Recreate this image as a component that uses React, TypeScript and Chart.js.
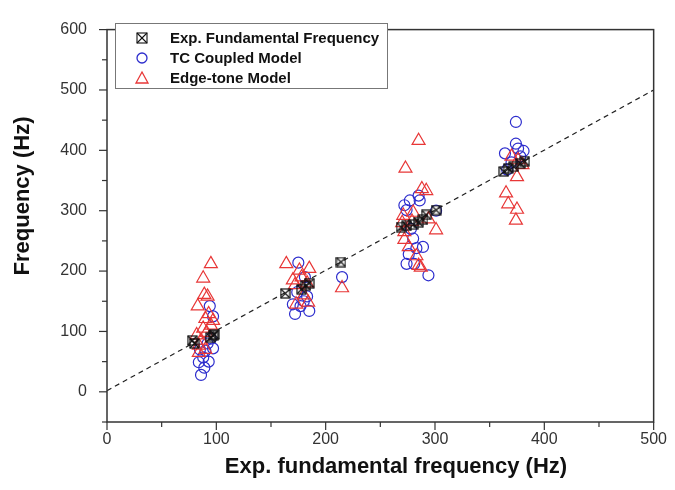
import React, { useEffect, useRef } from 'react';
import { Chart, registerables } from 'chart.js';

Chart.register(...registerables);

// ---- data ----
const expX = [78, 80, 95, 97, 98, 163, 178, 182, 185, 214, 269, 274, 280, 285, 289, 292, 301, 363, 367, 372, 378, 382];
const expY = [85, 80, 90, 93, 95, 163, 170, 176, 180, 215, 273, 275, 277, 281, 285, 293, 301, 365, 370, 373, 378, 382];

const tcX = [94, 97, 95, 92, 90, 88, 84, 93, 86, 89, 97, 85,
  175, 183, 172, 185, 177, 180, 174, 181, 170,
  215,
  277, 272, 286, 274, 301, 280, 283, 276, 274, 281, 294, 289, 278, 285,
  374, 374, 364, 381, 376, 370, 366, 378];
const tcY = [142, 125, 88, 80, 68, 57, 49, 50, 28, 40, 72, 70,
  214, 158, 129, 134, 142, 150, 165, 190, 145,
  190,
  317, 309, 317, 301, 300, 254, 238, 228, 212, 212, 193, 240, 270, 325,
  447, 411, 395, 399, 403, 380, 368, 390];

const etX = [95, 88, 89, 92, 83, 93, 90, 95, 82, 84, 88, 91, 86, 97, 84, 90,
  164, 176, 185, 172, 183, 173, 184, 178, 180, 170,
  215,
  285, 273, 288, 292, 271, 280, 294, 301, 272, 272, 285, 287, 279, 276, 283, 270,
  376, 380, 375, 365, 367, 375, 374, 370];
const etY = [212, 188, 161, 158, 142, 129, 121, 110, 94, 77, 105, 98, 85, 118, 65, 70,
  212, 201, 204, 177, 180, 145, 148, 190, 160, 185,
  172,
  416, 370, 336, 333, 292, 297, 286, 268, 265, 252, 209, 206, 282, 240, 225, 280,
  384, 376, 356, 329, 311, 302, 284, 390];

const refLineX = [0, 500];
const refLineY = [2, 500];

const xMajorTicks = [0, 100, 200, 300, 400, 500];
const xMinorTicks = [50, 150, 250, 350, 450];
const yMajorTicks = [0, 100, 200, 300, 400, 500, 600];
const yMinorTicks = [-50, 50, 150, 250, 350, 450, 550];

const legendLabels = ['Exp. Fundamental Frequency', 'TC Coupled Model', 'Edge-tone Model'];
const xTitle = 'Exp. fundamental frequency (Hz)';
const yTitle = 'Frequency (Hz)';

const BLUE = 'rgb(45,45,205)';
const RED = 'rgb(232,55,55)';
const FONT = '"Liberation Sans", Arial, sans-serif';

function makeBoxX(size: number): HTMLCanvasElement {
  const c = document.createElement('canvas');
  c.width = size;
  c.height = size;
  const g = c.getContext('2d')!;
  g.strokeStyle = '#111';
  g.lineWidth = 1.2;
  g.strokeRect(1, 1, size - 2, size - 2);
  g.beginPath();
  g.moveTo(1, 1);
  g.lineTo(size - 1, size - 1);
  g.moveTo(size - 1, 1);
  g.lineTo(1, size - 1);
  g.stroke();
  return c;
}

const framePlugin = {
  id: 'framePlugin',
  afterDraw(chart: any) {
    const { ctx, chartArea: a, scales } = chart;
    const xs = scales.x;
    const ys = scales.y;
    ctx.save();
    ctx.strokeStyle = '#333';
    ctx.lineWidth = 1.5;
    ctx.strokeRect(a.left, a.top, a.right - a.left, a.bottom - a.top);
    ctx.lineWidth = 1.2;
    const tick = (x1: number, y1: number, x2: number, y2: number) => {
      ctx.beginPath();
      ctx.moveTo(x1, y1);
      ctx.lineTo(x2, y2);
      ctx.stroke();
    };
    xMajorTicks.forEach((v) => { const p = xs.getPixelForValue(v); tick(p, a.bottom, p, a.bottom + 8); });
    xMinorTicks.forEach((v) => { const p = xs.getPixelForValue(v); tick(p, a.bottom, p, a.bottom + 5); });
    yMajorTicks.forEach((v) => { const p = ys.getPixelForValue(v); tick(a.left, p, a.left - 8, p); });
    yMinorTicks.forEach((v) => { const p = ys.getPixelForValue(v); tick(a.left, p, a.left - 5, p); });

    // axis titles
    ctx.fillStyle = '#111';
    ctx.font = `bold 22px ${FONT}`;
    ctx.textAlign = 'center';
    ctx.textBaseline = 'middle';
    ctx.fillText(xTitle, 396, 467);
    ctx.save();
    ctx.translate(23, 196);
    ctx.rotate(-Math.PI / 2);
    ctx.fillText(yTitle, 0, 0);
    ctx.restore();

    // legend
    const bx = 115, by = 23, bw = 272, bh = 65;
    ctx.fillStyle = '#fff';
    ctx.fillRect(bx, by, bw, bh);
    ctx.strokeStyle = '#777';
    ctx.lineWidth = 1;
    ctx.strokeRect(bx + 0.5, by + 0.5, bw, bh);
    const rows = [38, 58, 78];
    const mx = 142;
    ctx.strokeStyle = '#111';
    ctx.lineWidth = 1.1;
    ctx.strokeRect(mx - 5, rows[0] - 5, 10, 10);
    tick(mx - 5, rows[0] - 5, mx + 5, rows[0] + 5);
    tick(mx + 5, rows[0] - 5, mx - 5, rows[0] + 5);
    ctx.strokeStyle = BLUE;
    ctx.lineWidth = 1.3;
    ctx.beginPath();
    ctx.arc(mx, rows[1], 5, 0, Math.PI * 2);
    ctx.stroke();
    ctx.strokeStyle = RED;
    ctx.beginPath();
    ctx.moveTo(mx, rows[2] - 6);
    ctx.lineTo(mx + 6, rows[2] + 5);
    ctx.lineTo(mx - 6, rows[2] + 5);
    ctx.closePath();
    ctx.stroke();
    ctx.fillStyle = '#111';
    ctx.font = `bold 15px ${FONT}`;
    ctx.textAlign = 'left';
    legendLabels.forEach((t, i) => ctx.fillText(t, 170, rows[i] + 1));
    ctx.restore();
  },
};

export default function App() {
  const ref = useRef<HTMLCanvasElement | null>(null);
  useEffect(() => {
    if (!ref.current) return;
    const boxX = makeBoxX(11);
    const toPts = (xs: number[], ys: number[]) => xs.map((x, i) => ({ x, y: ys[i] }));
    const chart = new Chart(ref.current, {
      type: 'scatter',
      data: {
        datasets: [
          {
            label: legendLabels[0],
            data: toPts(expX, expY),
            pointStyle: boxX as any,
            pointRadius: 5,
            borderColor: '#111',
            backgroundColor: 'transparent',
          },
          {
            label: legendLabels[2],
            data: toPts(etX, etY),
            pointStyle: 'triangle',
            pointRadius: 7.5,
            borderColor: RED,
            borderWidth: 1.2,
            backgroundColor: 'transparent',
          },
          {
            label: legendLabels[1],
            data: toPts(tcX, tcY),
            pointStyle: 'circle',
            pointRadius: 5.5,
            borderColor: BLUE,
            borderWidth: 1.2,
            backgroundColor: 'transparent',
          },
          {
            type: 'line' as any,
            label: 'ref',
            data: toPts(refLineX, refLineY),
            borderColor: '#222',
            borderWidth: 1.2,
            borderDash: [5, 4],
            pointRadius: 0,
            showLine: true,
            fill: false,
          },
        ],
      },
      options: {
        animation: false,
        responsive: false,
        devicePixelRatio: 1,
        layout: { padding: { left: 0, right: 15, top: 15, bottom: 0 } },
        plugins: { legend: { display: false }, tooltip: { enabled: false } },
        scales: {
          x: {
            type: 'linear',
            min: 0,
            max: 500,
            afterFit: (s: any) => { s.height = 68; },
            afterBuildTicks: (s: any) => { s.ticks = xMajorTicks.map((v) => ({ value: v })); },
            grid: { display: false, drawTicks: false },
            border: { display: false },
            ticks: { padding: 8, color: '#333', font: { family: FONT, size: 16 }, maxRotation: 0 },
          },
          y: {
            type: 'linear',
            min: -50,
            max: 600,
            afterFit: (s: any) => { s.width = 107; },
            afterBuildTicks: (s: any) => { s.ticks = yMajorTicks.map((v) => ({ value: v })); },
            grid: { display: false, drawTicks: false },
            border: { display: false },
            ticks: { padding: 20, color: '#333', font: { family: FONT, size: 16 } },
          },
        },
      },
      plugins: [framePlugin],
    });
    return () => chart.destroy();
  }, []);
  return (
    <div style={{ position: 'absolute', left: 0, top: 0, width: 675, height: 490, background: '#fff' }}>
      <canvas ref={ref} width={675} height={490} />
    </div>
  );
}
